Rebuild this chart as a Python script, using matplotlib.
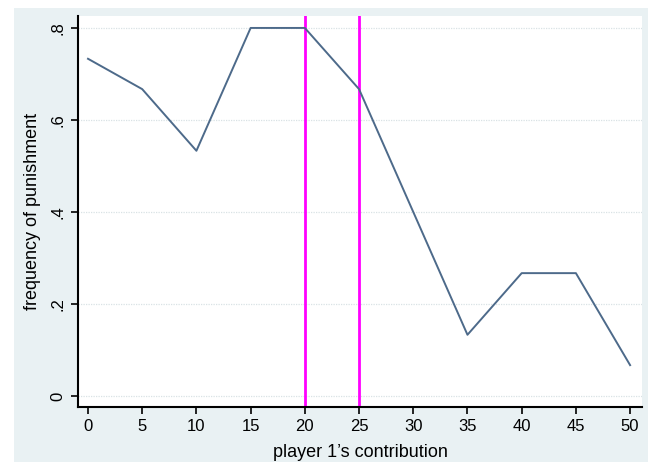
import matplotlib
matplotlib.use("Agg")
from matplotlib import pyplot as plt
from matplotlib.patches import Rectangle

# data
contribution = [0, 5, 10, 15, 20, 25, 30, 35, 40, 45, 50]
punish_freq = [0.733, 0.667, 0.533, 0.8, 0.8, 0.667, 0.4, 0.133, 0.267, 0.267, 0.067]
vlines_x = [20, 25]
yticks = [0, 0.2, 0.4, 0.6, 0.8]
ytick_labels = ["0", ".2", ".4", ".6", ".8"]

plt.rcParams['font.family'] = ['Liberation Sans', 'DejaVu Sans']

fig = plt.figure(figsize=(6.54, 4.66), dpi=100, facecolor='white')

# stata-ish light background panel
fig.patches.append(Rectangle((0.0214, 0.0086), 0.969, 0.974, transform=fig.transFigure,
                             facecolor='#e9f1f3', edgecolor='none', zorder=-10))

ax = fig.add_axes([0.1193, 0.1266, 0.8624, 0.8391])
ax.set_zorder(5)
ax.set_facecolor('white')

# gridlines
for y in yticks:
    ax.axhline(y, color='#d9e2e5', lw=0.9, ls=(0, (1, 1)), zorder=1)

ax.plot(contribution, punish_freq, color='#4d6a8a', lw=1.4, zorder=3)
for xv in vlines_x:
    ax.axvline(xv, color='#ff00ff', lw=2, zorder=2)

ax.set_xlim(-0.92, 51.1)
ax.set_ylim(-0.024, 0.826)
ax.set_xticks(contribution)
ax.set_yticks(yticks)
ax.set_yticklabels(ytick_labels, rotation=90, va='center')
ax.tick_params(axis='both', direction='out', length=5, width=1.2, labelsize=12, colors='black')
ax.tick_params(axis='y', pad=4)

for s in ['top', 'right']:
    ax.spines[s].set_visible(False)
for s in ['left', 'bottom']:
    ax.spines[s].set_linewidth(1.5)

ax.set_xlabel("player 1\u2019s contribution", fontsize=13, labelpad=7)
ax.set_ylabel("frequency of punishment", fontsize=13, labelpad=7)

fig.savefig("out.png", dpi=100, facecolor='white')
